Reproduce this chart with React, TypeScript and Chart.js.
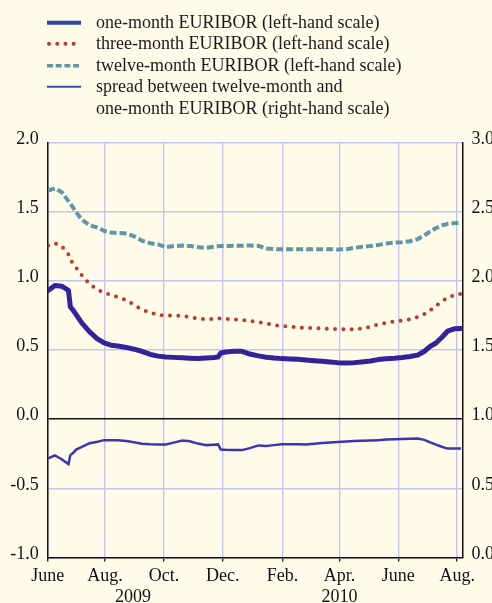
import React, { useEffect, useRef } from "react";
import { Chart, registerables } from "chart.js";

Chart.register(...registerables);

// Days since 1 June 2009
const dayIndex = [
  2, 9, 16, 23, 25, 28, 31, 37, 45, 53,
  60, 67, 74, 83, 91, 99, 108, 116, 124, 132,
  141, 149, 157, 166, 174, 178, 181, 186, 195, 203,
  211, 220, 228, 236, 244, 253, 261, 269, 278, 286,
  294, 302, 311, 319, 327, 336, 344, 352, 361, 369,
  377, 385, 392, 398, 404, 410, 416, 423, 430,
];

// one-month EURIBOR (left-hand scale)
const oneMonth = [
  0.93, 0.965, 0.96, 0.93, 0.81, 0.785, 0.755, 0.693, 0.63, 0.58,
  0.55, 0.534, 0.528, 0.518, 0.505, 0.49, 0.467, 0.455, 0.449, 0.446,
  0.443, 0.44, 0.438, 0.442, 0.445, 0.448, 0.478, 0.485, 0.49, 0.49,
  0.47, 0.457, 0.447, 0.441, 0.437, 0.434, 0.432, 0.427, 0.422, 0.418,
  0.413, 0.408, 0.406, 0.408, 0.413, 0.42, 0.43, 0.436, 0.44, 0.445,
  0.452, 0.462, 0.49, 0.525, 0.55, 0.59, 0.635, 0.652, 0.655,
];

// three-month EURIBOR (left-hand scale)
const threeMonth = [
  1.254, 1.27, 1.25, 1.19, 1.155, 1.118, 1.094, 1.038, 0.975, 0.935,
  0.914, 0.897, 0.882, 0.86, 0.825, 0.792, 0.77, 0.753, 0.749, 0.747,
  0.746, 0.737, 0.726, 0.722, 0.724, 0.727, 0.726, 0.724, 0.72, 0.715,
  0.71, 0.7, 0.692, 0.679, 0.672, 0.668, 0.661, 0.659, 0.658, 0.654,
  0.652, 0.65, 0.648, 0.649, 0.655, 0.668, 0.683, 0.695, 0.707, 0.712,
  0.72, 0.738, 0.76, 0.787, 0.818, 0.85, 0.877, 0.895, 0.905,
];

// twelve-month EURIBOR (left-hand scale)
const twelveMonth = [
  1.65, 1.668, 1.64, 1.575, 1.557, 1.527, 1.495, 1.44, 1.4, 1.383,
  1.36, 1.348, 1.345, 1.341, 1.32, 1.29, 1.27, 1.262, 1.242, 1.25,
  1.254, 1.25, 1.243, 1.237, 1.245, 1.249, 1.25, 1.25, 1.252, 1.253,
  1.254, 1.252, 1.232, 1.228, 1.227, 1.227, 1.227, 1.227, 1.227, 1.227,
  1.227, 1.226, 1.228, 1.237, 1.245, 1.251, 1.258, 1.268, 1.275, 1.278,
  1.285, 1.3, 1.328, 1.355, 1.38, 1.4, 1.41, 1.416, 1.418,
];

// spread between twelve-month and one-month EURIBOR (right-hand scale)
const spread = [
  0.716, 0.738, 0.71, 0.675, 0.74, 0.757, 0.78, 0.8, 0.826, 0.836,
  0.848, 0.848, 0.847, 0.842, 0.833, 0.822, 0.818, 0.817, 0.817, 0.83,
  0.845, 0.84, 0.823, 0.812, 0.815, 0.817, 0.78, 0.778, 0.776, 0.776,
  0.79, 0.81, 0.806, 0.812, 0.818, 0.818, 0.818, 0.817, 0.822, 0.827,
  0.831, 0.834, 0.838, 0.841, 0.843, 0.845, 0.848, 0.852, 0.855, 0.857,
  0.858, 0.86, 0.85, 0.832, 0.815, 0.8, 0.787, 0.787, 0.788,
];

// x-axis ticks (days since 1 June 2009) and their labels
const xTickDays = [1.5, 61, 90, 122, 183, 245, 304, 365, 426];
const xTickLabels: string[][] = [
  ["June"], ["Aug."], ["", "2009"], ["Oct."], ["Dec."], ["Feb."], ["Apr.", "2010"], ["June"], ["Aug."],
];
const yearOnlyTick = 2;

const legendLabels = [
  "one-month EURIBOR (left-hand scale)",
  "three-month EURIBOR (left-hand scale)",
  "twelve-month EURIBOR (left-hand scale)",
  "spread between twelve-month and",
  "one-month EURIBOR (right-hand scale)",
];

const BG = "#fefce9";
const GRID = "#c3c6ef";
const AXIS = "#111111";
const FONT = '"Liberation Serif", "Times New Roman", serif';
const C_ONE = "#33239a";
const C_THREE = "#bf3a2e";
const C_TWELVE = "#5f96a8";
const C_SPREAD = "#3b36ad";

const CW = 520;
const CH = 625;
const PLOT_LEFT = 47.7;
const PLOT_RIGHT = 462.5;
const PLOT_TOP = 142.3;
const PLOT_BOTTOM = 557.5;

function pts(vals: number[]) {
  return vals.map((v, i) => ({ x: dayIndex[i], y: v }));
}

function LegendRow(props: { sample: React.ReactNode; lines: string[] }) {
  return (
    <div style={{ display: "flex", alignItems: "flex-start" }}>
      <svg width={34} height={21.5} style={{ flex: "none", display: "block" }}>
        {props.sample}
      </svg>
      <div style={{ marginLeft: 15 }}>
        {props.lines.map((l, i) => (
          <div key={i}>{l}</div>
        ))}
      </div>
    </div>
  );
}

export default function App() {
  const ref = useRef<HTMLCanvasElement>(null);

  useEffect(() => {
    const canvas = ref.current;
    if (!canvas) return;
    const tickFont = { family: FONT, size: 18, lineHeight: 20.5 / 18 };
    const chart = new Chart(canvas, {
      type: "line",
      data: {
        datasets: [
          {
            label: legendLabels[0],
            data: pts(oneMonth),
            borderColor: C_ONE,
            borderWidth: 5,
            borderJoinStyle: "round",
            borderCapStyle: "round",
            pointRadius: 0,
            yAxisID: "y",
          },
          {
            label: legendLabels[1],
            data: pts(threeMonth),
            borderColor: C_THREE,
            borderWidth: 4,
            borderDash: [0, 8.3],
            borderCapStyle: "round",
            pointRadius: 0,
            yAxisID: "y",
          },
          {
            label: legendLabels[2],
            data: pts(twelveMonth),
            borderColor: C_TWELVE,
            borderWidth: 4,
            borderDash: [7, 3],
            borderCapStyle: "butt",
            pointRadius: 0,
            yAxisID: "y",
          },
          {
            label: legendLabels[3] + " " + legendLabels[4],
            data: pts(spread),
            borderColor: C_SPREAD,
            borderWidth: 2.5,
            pointRadius: 0,
            yAxisID: "y2",
          },
        ],
      },
      options: {
        animation: false,
        responsive: true,
        maintainAspectRatio: false,
        layout: { padding: { top: PLOT_TOP, left: 0, right: 0, bottom: 0 } },
        plugins: { legend: { display: false }, tooltip: { enabled: false } },
        scales: {
          x: {
            type: "linear",
            min: 1.5,
            max: 431.5,
            afterBuildTicks: (s: any) => {
              s.ticks = xTickDays.map((v) => ({ value: v }));
            },
            afterFit: (s: any) => {
              s.height = CH - PLOT_BOTTOM;
            },
            grid: {
              color: (c: any) => (c.index === yearOnlyTick ? "rgba(0,0,0,0)" : GRID),
              lineWidth: 1.4,
              tickColor: (c: any) => (c.index === yearOnlyTick ? "rgba(0,0,0,0)" : AXIS),
              tickLength: 4,
              tickWidth: 1.3,
            },
            border: { color: AXIS, width: 1.5 },
            ticks: {
              autoSkip: false,
              maxRotation: 0,
              minRotation: 0,
              padding: 5,
              color: AXIS,
              font: tickFont,
              callback: (_v: any, i: number) => xTickLabels[i],
            },
          },
          y: {
            type: "linear",
            position: "left",
            min: -1,
            max: 2,
            afterFit: (s: any) => {
              s.width = PLOT_LEFT;
            },
            grid: {
              color: (c: any) => (c.tick && c.tick.value === 0 ? AXIS : GRID),
              lineWidth: (c: any) => (c.tick && c.tick.value === 0 ? 1.5 : 1.4),
              drawTicks: false,
            },
            border: { color: AXIS, width: 1.5 },
            ticks: {
              stepSize: 0.5,
              padding: 9,
              labelOffset: -3.5,
              color: AXIS,
              font: tickFont,
              callback: (v: any) => Number(v).toFixed(1),
            },
          },
          y2: {
            type: "linear",
            position: "right",
            min: 0,
            max: 3,
            afterFit: (s: any) => {
              s.width = CW - PLOT_RIGHT;
            },
            grid: { drawOnChartArea: false, drawTicks: false },
            border: { color: AXIS, width: 1.5 },
            ticks: {
              stepSize: 0.5,
              padding: 9,
              labelOffset: -3.5,
              color: AXIS,
              font: tickFont,
              callback: (v: any) => Number(v).toFixed(1),
            },
          },
        },
      },
    } as any);
    return () => chart.destroy();
  }, []);

  return (
    <div
      style={{
        position: "fixed",
        left: 0,
        top: 0,
        width: 492,
        height: 603,
        overflow: "hidden",
        background: BG,
        fontFamily: FONT,
        color: "#1a1a1a",
      }}
    >
      <div style={{ position: "absolute", left: 0, top: 0, width: CW, height: CH }}>
        <canvas ref={ref} />
      </div>
      <div
        style={{
          position: "absolute",
          left: 47,
          top: 11.5,
          fontSize: 18,
          lineHeight: "21.5px",
          whiteSpace: "nowrap",
        }}
      >
        <LegendRow
          lines={[legendLabels[0]]}
          sample={<line x1={0} x2={34} y1={10.75} y2={10.75} stroke="#2b47a6" strokeWidth={4} />}
        />
        <LegendRow
          lines={[legendLabels[1]]}
          sample={
            <line
              x1={2}
              x2={34}
              y1={10.75}
              y2={10.75}
              stroke={C_THREE}
              strokeWidth={4}
              strokeLinecap="round"
              strokeDasharray="0 8.2"
            />
          }
        />
        <LegendRow
          lines={[legendLabels[2]]}
          sample={
            <line
              x1={0}
              x2={34}
              y1={10.75}
              y2={10.75}
              stroke={C_TWELVE}
              strokeWidth={3.5}
              strokeDasharray="6 2.7"
            />
          }
        />
        <LegendRow
          lines={[legendLabels[3], legendLabels[4]]}
          sample={<line x1={0} x2={34} y1={10.75} y2={10.75} stroke="#3a4cb0" strokeWidth={2} />}
        />
      </div>
    </div>
  );
}
